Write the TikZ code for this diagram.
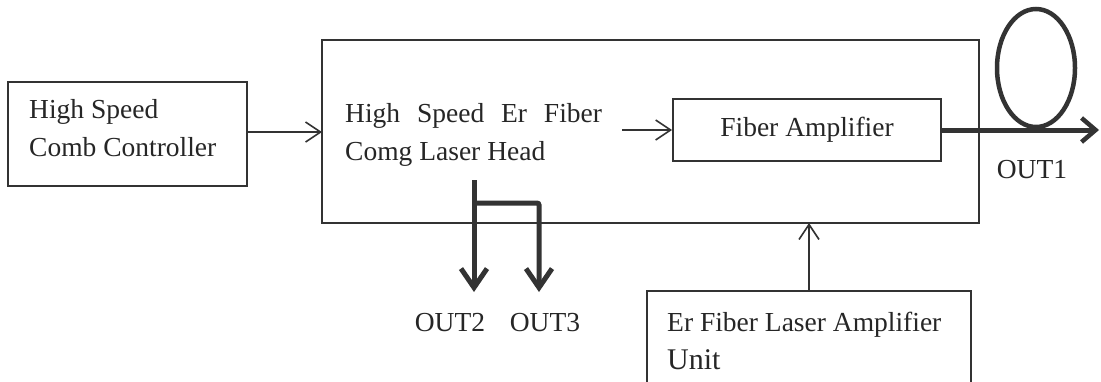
\documentclass[tikz,border=0pt]{standalone}
\usepackage{fontspec}
\setmainfont{Liberation Serif}
\usetikzlibrary{arrows.meta}
\begin{document}
\begin{tikzpicture}[x=1pt,y=-1pt,
  box/.style={draw=black!80, line width=1.8pt, rectangle, inner sep=0pt},
  lbl/.style={inner sep=0pt, font=\fontsize{27.5}{38}\selectfont, text=black!85},
  thin/.style={draw=black!80, line width=1.6pt, -{Straight Barb[length=15pt,width=20pt,line width=1.6pt]}},
  thick/.style={draw=black!80, line width=5pt, -{Straight Barb[length=14pt,width=24pt,line width=4.5pt]}},
  thickdown/.style={draw=black!80, line width=5pt, -{Straight Barb[length=19pt,width=26pt,line width=5pt]}}]
\useasboundingbox (0,0) rectangle (1101,381);
\fill[white] (0,0) rectangle (1101,381);
% boxes
\node[box, minimum width=239pt, minimum height=104pt] (ctrl) at (127.5,134) {};
\node[box, minimum width=657pt, minimum height=183pt] (head) at (650.5,131.5) {};
\node[box, minimum width=268pt, minimum height=62pt] (amp) at (807,130) {};
\node[box, minimum width=324pt, minimum height=110pt] (unit) at (809,346) {};
% texts
\node[lbl, align=left, anchor=west] (ctrlT) at (29,128) {High Speed\\Comb Controller};
\node[lbl, align=left, anchor=west] (headT) at (345,134.5) {High\hspace{10pt} Speed\hspace{10pt} Er\hspace{10pt} Fiber\\Comg Laser Head};
\node[lbl] (ampT) at (amp.center) {Fiber Amplifier};
\node[lbl, anchor=base west] (unitT1) at (667,331) {Er Fiber Laser Amplifier};
\node[lbl, anchor=base west, font=\fontsize{30}{38}\selectfont] (unitT2) at (667,369) {Unit};
\node[lbl, anchor=base] (out1) at (1032,178) {OUT1};
\node[lbl, anchor=base] (out2) at (450,331) {OUT2};
\node[lbl, anchor=base] (out3) at (545,331) {OUT3};
% coordinates
\coordinate (hin) at (322,132);
\coordinate (a1) at (622,130);
\coordinate (o1) at (1099,130);
\coordinate (s0) at (474,180);
\coordinate (s1) at (474,203);
\coordinate (s2) at (539,203);
\coordinate (t2) at (474,292);
\coordinate (t3) at (539,292);
\coordinate (uin) at (809,223);
% connectors
\draw[thin] (ctrl.east |- hin) -- (hin);
\draw[thin] (a1) -- (amp.west);
\draw[thin] (unit.north -| uin) -- (uin);
\draw[thick] (amp.east) -- (o1);
\draw[draw=black!80, line width=4.5pt] (1036,68) ellipse [x radius=39pt, y radius=59pt];
\draw[thickdown] (s0) -- (t2);
\draw[thickdown, rounded corners=2pt] (s1) -- (s2) -- (t3);
\end{tikzpicture}
\end{document}
